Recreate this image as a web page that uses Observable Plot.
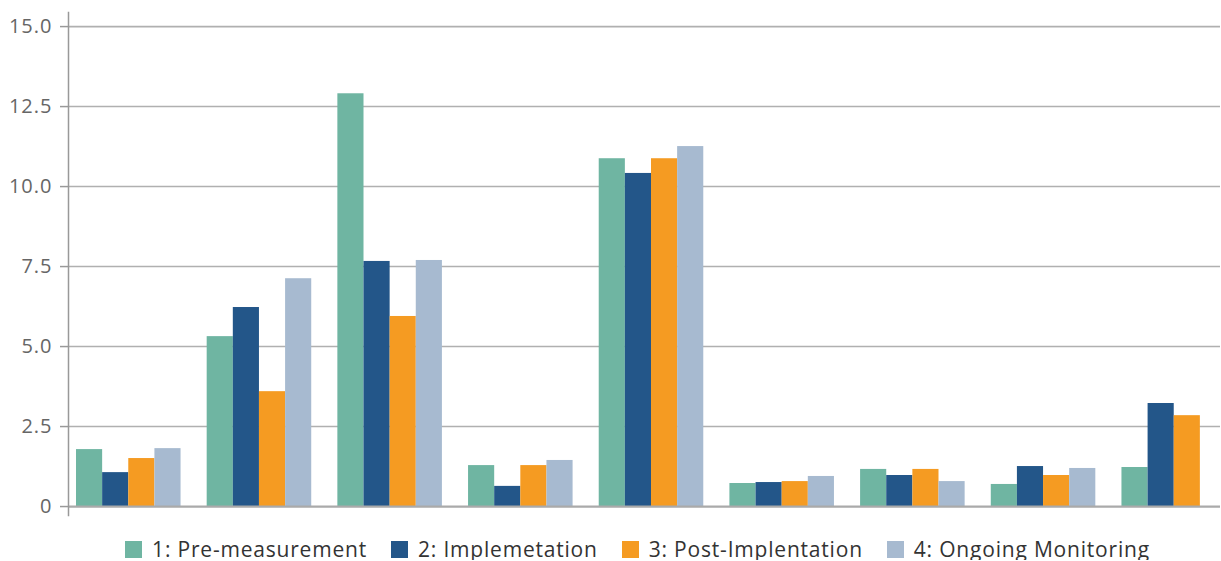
<!DOCTYPE html>
<html>
<head>
<meta charset="utf-8">
<script src="https://cdn.jsdelivr.net/npm/d3@7"></script>
<script src="https://cdn.jsdelivr.net/npm/@observablehq/plot@0.6"></script>
<style>
  body { margin: 0; background: #fff; font-family: "Open Sans", sans-serif; }
  #chart svg text { letter-spacing: 1px; }
  #legend { display: flex; justify-content: center; align-items: center; margin-top: 8px; height: 22px; padding-left: 54px; }
  .item { display: flex; align-items: center; margin: 0 12px; font-size: 21px; letter-spacing: 0.8px; color: #333; }
  .sw { width: 17px; height: 17px; margin-right: 10px; }
</style>
</head>
<body>
<div id="chart"></div>
<div id="legend"></div>
<script>
const categories = ["G1", "G2", "G3", "G4", "G5", "G6", "G7", "G8", "G9"];
const seriesNames = ["1: Pre-measurement", "2: Implemetation", "3: Post-Implentation", "4: Ongoing Monitoring"];
const colors = ["#6fb5a2", "#235689", "#f59b22", "#a7bad0"];
const preMeasurement    = [1.78, 5.31, 12.9, 1.28, 10.87, 0.72, 1.16, 0.69, 1.22];
const implementation    = [1.06, 6.22, 7.66, 0.63, 10.41, 0.75, 0.97, 1.25, 3.22];
const postImplentation  = [1.50, 3.59, 5.94, 1.28, 10.87, 0.78, 1.16, 0.97, 2.84];
const ongoingMonitoring = [1.81, 7.12, 7.69, 1.44, 11.25, 0.94, 0.78, 1.19, null];
const yTicks = [0, 2.5, 5, 7.5, 10, 12.5, 15];

const seriesValues = [preMeasurement, implementation, postImplentation, ongoingMonitoring];
const data = [];
categories.forEach((c, i) => seriesNames.forEach((s, j) => {
  if (seriesValues[j][i] != null) data.push({key: c + "|" + s, series: s, value: seriesValues[j][i]});
}));
const keys = [];
categories.forEach((c, i) => {
  seriesNames.forEach(s => keys.push(c + "|" + s));
  if (i < categories.length - 1) keys.push(c + "|gap");
});

const font = "Open Sans, sans-serif";
const plot = Plot.plot({
  width: 1221,
  height: 530,
  marginLeft: 68,
  marginRight: 1,
  marginTop: 12,
  marginBottom: 15,
  style: {fontFamily: font, background: "#fff"},
  x: {type: "band", domain: keys, range: [76, 1226], padding: 0, round: false, axis: null},
  y: {domain: [-0.28, 15.44], axis: null},
  color: {domain: seriesNames, range: colors},
  marks: [
    Plot.ruleY(yTicks.filter(d => d > 0), {stroke: "#b0b0b0", strokeWidth: 1.6}),
    Plot.axisY({ticks: yTicks, tickSize: 8, tickPadding: 8, stroke: "#999", strokeWidth: 1.5,
      tickFormat: d => d === 0 ? "0" : d.toFixed(1), fill: "#666", fontSize: 20, fontFamily: font, label: null}),
    Plot.barY(data, {x: "key", y: "value", fill: "series"}),
    Plot.ruleY([0], {stroke: "#aaa", strokeWidth: 2.2}),
    Plot.frame({anchor: "left", stroke: "#999", strokeWidth: 1.5})
  ]
});
document.getElementById("chart").appendChild(plot);

const legend = document.getElementById("legend");
seriesNames.forEach((s, j) => {
  const item = document.createElement("div");
  item.className = "item";
  const sw = document.createElement("div");
  sw.className = "sw";
  sw.style.background = colors[j];
  const t = document.createElement("span");
  t.textContent = s;
  item.appendChild(sw);
  item.appendChild(t);
  legend.appendChild(item);
});
</script>
</body>
</html>
